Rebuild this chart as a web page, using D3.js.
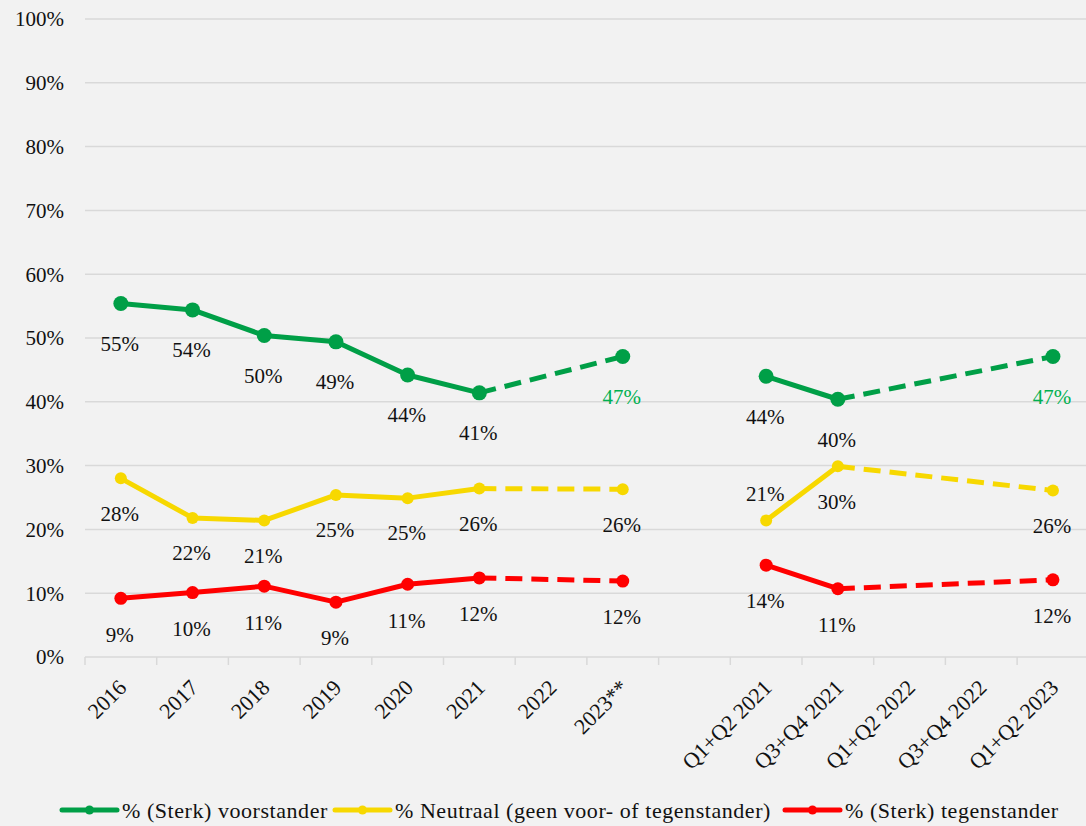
<!DOCTYPE html>
<html>
<head>
<meta charset="utf-8">
<script src="https://cdn.jsdelivr.net/npm/d3@7"></script>
<style>
  html, body { margin: 0; padding: 0; background: #f2f2f2; }
  svg { display: block; }
</style>
</head>
<body>
<svg id="chart" width="1086" height="826" font-family="'Liberation Serif', 'DejaVu Serif', serif"></svg>
<script>
// Categories: yearly results, an empty spacer, then half-year results
const categories = ["2016", "2017", "2018", "2019", "2020", "2021", "2022", "2023**", "",
  "Q1+Q2 2021", "Q3+Q4 2021", "Q1+Q2 2022", "Q3+Q4 2022", "Q1+Q2 2023"];

// Group each category belongs to (dashed bridges never cross groups)
const groups = [0, 0, 0, 0, 0, 0, 0, 0, -1, 1, 1, 1, 1, 1];

// Percentages per series (null = no measurement)
const voorstander  = [55.4, 54.4, 50.4, 49.4, 44.2, 41.4, null, 47.1, null, 44.0, 40.4, null, null, 47.1];
const neutraal     = [28.0, 21.8, 21.4, 25.4, 24.9, 26.4, null, 26.3, null, 21.4, 29.9, null, null, 26.1];
const tegenstander = [9.2, 10.1, 11.1, 8.6, 11.4, 12.4, null, 11.9, null, 14.4, 10.7, null, null, 12.1];

const yTicks = [0, 10, 20, 30, 40, 50, 60, 70, 80, 90, 100];

const seriesNames = ["% (Sterk) voorstander", "% Neutraal (geen voor- of tegenstander)", "% (Sterk) tegenstander"];

const textColor = "#111111";
const series = [
  { name: seriesNames[0], values: voorstander,  color: "#009f47", r: 7.5, labelDy: 40, accent: "#00b050" },
  { name: seriesNames[1], values: neutraal,     color: "#f7d800", r: 6,   labelDy: 35, accent: textColor },
  { name: seriesNames[2], values: tegenstander, color: "#ff0000", r: 6.5, labelDy: 36, accent: textColor }
];

const svg = d3.select("#chart");
const W = 1086;
const plotLeft = 85, plotTop = 19, plotBottom = 657;
const step = 71.7;
const fontSize = 21;

const x = d3.scaleBand()
  .domain(d3.range(categories.length))
  .range([plotLeft, plotLeft + step * categories.length])
  .paddingInner(0).paddingOuter(0);
const cx = i => x(i) + x.bandwidth() / 2;

const y = d3.scaleLinear().domain([0, 100]).range([plotBottom, plotTop]);

// Horizontal gridlines
svg.append("g").selectAll("line")
  .data(yTicks)
  .join("line")
  .attr("x1", plotLeft).attr("x2", W)
  .attr("y1", d => y(d)).attr("y2", d => y(d))
  .attr("stroke", "#d9d9d9").attr("stroke-width", 1.5);

// Y axis labels
svg.append("g").selectAll("text")
  .data(yTicks)
  .join("text")
  .attr("x", 64).attr("y", d => y(d))
  .attr("dy", "0.35em")
  .attr("text-anchor", "end")
  .attr("font-size", fontSize)
  .attr("fill", textColor)
  .text(d => d + "%");

// X axis tick marks at category boundaries
svg.append("g").selectAll("line")
  .data(d3.range(categories.length))
  .join("line")
  .attr("x1", i => x(i)).attr("x2", i => x(i))
  .attr("y1", plotBottom).attr("y2", plotBottom + 8)
  .attr("stroke", "#d9d9d9").attr("stroke-width", 1.5);

// X axis labels, rotated
svg.append("g").selectAll("text")
  .data(d3.range(categories.length))
  .join("text")
  .attr("transform", i => `translate(${cx(i) - 4},${plotBottom + 21}) rotate(-45)`)
  .attr("text-anchor", "end")
  .attr("dy", "0.7em")
  .attr("font-size", 22)
  .attr("fill", textColor)
  .text(i => categories[i]);

const solid = d3.line()
  .defined(d => d.v != null)
  .x(d => cx(d.i)).y(d => y(d.v));

series.forEach((s, si) => {
  const pts = s.values.map((v, i) => ({ i, v }));
  const g = svg.append("g");

  // Solid segments between consecutive measurements
  g.append("path")
    .attr("d", solid(pts))
    .attr("fill", "none")
    .attr("stroke", s.color)
    .attr("stroke-width", 5)
    .attr("stroke-linejoin", "round");

  // Dashed bridges over missing measurements within a group
  const defined = pts.filter(d => d.v != null);
  const bridges = [];
  for (let k = 0; k < defined.length - 1; k++) {
    const a = defined[k], b = defined[k + 1];
    if (b.i - a.i > 1 && groups[a.i] === groups[b.i]) bridges.push([a, b]);
  }
  g.selectAll("path.bridge")
    .data(bridges)
    .join("path")
    .attr("class", "bridge")
    .attr("d", d => d3.line().x(p => cx(p.i)).y(p => y(p.v))(d))
    .attr("fill", "none")
    .attr("stroke", s.color)
    .attr("stroke-width", 5)
    .attr("stroke-dasharray", "17 9");

  // Markers
  g.selectAll("circle")
    .data(defined)
    .join("circle")
    .attr("cx", d => cx(d.i)).attr("cy", d => y(d.v))
    .attr("r", s.r)
    .attr("fill", s.color);

  // Value labels; the projected 2023 values of the first series are highlighted
  const highlighted = new Set(si === 0 ? [7, categories.length - 1] : []);
  const above = new Set(si === 1 ? [9] : []);
  g.selectAll("text")
    .data(defined)
    .join("text")
    .attr("x", d => cx(d.i) - 1)
    .attr("y", d => y(d.v) + (above.has(d.i) ? -27 : s.labelDy))
    .attr("dy", "0.35em")
    .attr("text-anchor", "middle")
    .attr("font-size", fontSize)
    .attr("fill", d => highlighted.has(d.i) ? s.accent : textColor)
    .text(d => d3.format(".0f")(d.v) + "%");
});

// Legend
const legendY = 810;
const legendX = [62, 335, 785];
series.forEach((s, k) => {
  const g = svg.append("g").attr("transform", `translate(${legendX[k]},${legendY})`);
  g.append("line").attr("x1", 0).attr("x2", 55).attr("y1", 0).attr("y2", 0)
    .attr("stroke", s.color).attr("stroke-width", 5).attr("stroke-linecap", "round");
  g.append("circle").attr("cx", 27.5).attr("cy", 0).attr("r", 4.5).attr("fill", s.color);
  g.append("text").attr("x", 60).attr("y", 0).attr("dy", "0.35em")
    .attr("font-size", 22).attr("letter-spacing", 0.55)
    .attr("fill", textColor).text(s.name);
});
</script>
</body>
</html>
